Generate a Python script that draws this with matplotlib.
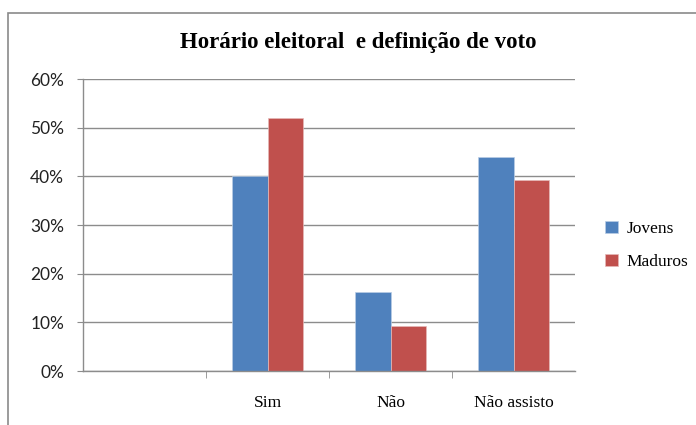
import numpy as np
import matplotlib.pyplot as plt
from matplotlib.patches import Rectangle
from matplotlib.ticker import FuncFormatter

categories = ['', 'Sim', 'Não', 'Não assisto']
jovens = [np.nan, 40.0, 16.3, 44.0]
maduros = [np.nan, 52.0, 9.2, 39.3]
series_names = ['Jovens', 'Maduros']

blue = '#4F81BD'
red = '#C0504D'
grid_gray = '#8C8C8C'

fig = plt.figure(figsize=(6.96, 4.25), dpi=100)

# outer chart frame (runs off the right/bottom edge like the screenshot)
fig.patches.append(Rectangle((8 / 696, -0.1), 1.2, (425 - 13) / 425 + 0.1,
                             transform=fig.transFigure, fill=False,
                             edgecolor='#8A8A8A', linewidth=1.2))

ax = fig.add_axes([83 / 696, (425 - 371) / 425, (575 - 83) / 696, (371 - 79) / 425])

x = np.arange(len(categories))
w = 0.285
b1 = ax.bar(x - w / 2, jovens, w, color=blue, label=series_names[0],
            edgecolor='#B9CDE5', linewidth=0.5)
b2 = ax.bar(x + w / 2, maduros, w, color=red, label=series_names[1],
            edgecolor='#E6B9B8', linewidth=0.5)

ax.set_xlim(-0.5, len(categories) - 0.5)
ax.set_ylim(0, 60)
ax.set_yticks(np.arange(0, 61, 10))
ax.yaxis.set_major_formatter(FuncFormatter(lambda v, p: f'{v:.0f}%'))
ax.yaxis.grid(True, color=grid_gray, linewidth=1)
ax.set_axisbelow(True)

for s in ['top', 'right']:
    ax.spines[s].set_visible(False)
for s in ['left', 'bottom']:
    ax.spines[s].set_color(grid_gray)
    ax.spines[s].set_linewidth(1)

ax.tick_params(axis='y', length=4.5, color=grid_gray, pad=9, labelsize=12.5,
               labelcolor='#222222')
for lbl in ax.get_yticklabels():
    lbl.set_family(['Lato', 'DejaVu Sans'])

ax.set_xticks(x)
ax.set_xticklabels(categories, family='Liberation Serif', fontsize=12.5)
ax.set_xticks(x[:-1] + 0.5, minor=True)
ax.tick_params(axis='x', which='major', length=0, pad=17)
ax.tick_params(axis='x', which='minor', length=5, color=grid_gray)

fig.text(0.515, 0.899, 'Horário eleitoral  e definição de voto', ha='center', va='center',
         family='Liberation Serif', fontweight='bold', fontsize=16.5)

leg = ax.legend(loc='center left', bbox_to_anchor=(1.03, 0.43), frameon=False,
                prop={'family': 'Liberation Serif', 'size': 12.5},
                handlelength=0.7, handleheight=0.7, handletextpad=0.5, labelspacing=0.95)

fig.savefig('out.png', dpi=100)
